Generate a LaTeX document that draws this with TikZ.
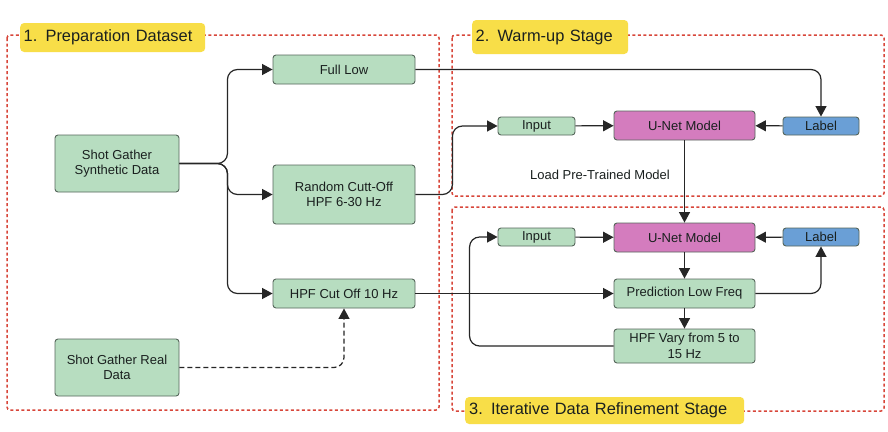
\documentclass[tikz,border=0pt]{standalone}
\usepackage{fontspec}
\setmainfont{Liberation Sans}
\usetikzlibrary{arrows.meta}
\definecolor{boxgreen}{HTML}{B7DDC0}
\definecolor{boxedge}{HTML}{56665B}
\definecolor{unet}{HTML}{D47CBE}
\definecolor{lblue}{HTML}{6A9FD6}
\definecolor{ylw}{HTML}{F8DE48}
\definecolor{rdash}{HTML}{D8463A}
\definecolor{txt}{HTML}{1A201F}
\begin{document}
\begin{tikzpicture}[x=1pt,y=-1pt,
  every node/.style={font=\fontsize{13}{15.5}\selectfont, text=txt},
  gbox/.style={draw=boxedge, fill=boxgreen, rounded corners=3pt, line width=0.9pt, inner sep=0pt, align=center},
  ubox/.style={gbox, fill=unet},
  bbox/.style={gbox, fill=lblue},
  stage/.style={draw=rdash, line width=1.5pt, dash pattern=on 3pt off 2.5pt, rounded corners=3pt},
  stagelabel/.style={fill=ylw, rounded corners=4pt, inner xsep=3.5pt, inner ysep=0pt, align=left, font=\fontsize{16.4}{19}\selectfont, anchor=west},
  conn/.style={draw=black!85, line width=1.2pt, rounded corners=10pt, -{Triangle[length=10.5pt,width=11pt]}}
]
\useasboundingbox (0,0) rectangle (888,431);
\fill[white] (0,0) rectangle (888,431);

% stage frames
\draw[stage] (7,35) rectangle (439,410);
\draw[stage] (452,35) rectangle (884,196);
\draw[stage] (452,207) rectangle (884,411);

\node[stagelabel, text width=178pt, minimum height=29pt] (t1) at (20,37.5) {1. Preparation Dataset};
\node[stagelabel, text width=149pt, minimum height=34pt] (t2) at (472,37) {2. Warm-up Stage};
\node[stagelabel, text width=271pt, minimum height=27pt, inner xsep=4pt] (t3) at (465,410.5) {3. Iterative Data Refinement Stage};

% nodes stage 1
\node[gbox, minimum width=142pt, minimum height=29pt] (full) at (344,69.5) {Full Low};
\node[gbox, minimum width=124pt, minimum height=57pt] (syn) at (117,163.5) {Shot Gather\\Synthetic Data};
\node[gbox, minimum width=142pt, minimum height=59pt] (rand) at (344,194.5) {Random Cutt-Off\\HPF 6-30 Hz};
\node[gbox, minimum width=142pt, minimum height=29pt] (hpf) at (344,293.5) {HPF Cut Off 10 Hz};
\node[gbox, minimum width=124pt, minimum height=57pt] (real) at (117,367.5) {Shot Gather Real\\Data};

% nodes stage 2
\node[gbox, minimum width=77pt, minimum height=18pt] (in1) at (536.5,126) {Input};
\node[ubox, minimum width=141pt, minimum height=29pt] (un1) at (684.5,125.5) {U-Net Model};
\node[bbox, minimum width=76pt, minimum height=18pt] (lb1) at (821,126) {Label};
\node (load) at (600,175) {Load Pre-Trained Model};

% nodes stage 3
\node[gbox, minimum width=77pt, minimum height=18pt] (in2) at (536.5,237) {Input};
\node[ubox, minimum width=141pt, minimum height=29pt] (un2) at (684.5,237.5) {U-Net Model};
\node[bbox, minimum width=76pt, minimum height=18pt] (lb2) at (821,237) {Label};
\node[gbox, minimum width=141pt, minimum height=29pt] (pred) at (684.5,293.5) {Prediction Low Freq};
\node[gbox, minimum width=141pt, minimum height=34pt] (vary) at (684.5,346) {HPF Vary from 5 to\\15 Hz};

% connectors
\draw[conn] (syn.east) -- ([xshift=48pt]syn.east) |- (full.west);
\draw[conn] (syn.east) -- ([xshift=48pt]syn.east) |- (rand.west);
\draw[conn] (syn.east) -- ([xshift=48pt]syn.east) |- (hpf.west);
\draw[conn] (full.east) -| (lb1.north);
\draw[conn] (rand.east) -- ([xshift=37pt]rand.east) |- (in1.west);
\draw[conn] (in1) -- (un1);
\draw[conn] (lb1) -- (un1);
\draw[conn] (un1.south) -- (un2.north);
\draw[conn] (in2) -- (un2);
\draw[conn] (lb2) -- (un2);
\draw[conn] (un2) -- (pred);
\draw[conn] (pred) -- (vary);
\draw[conn] (hpf.east) -- (pred.west);
\draw[conn] (pred.east) -| (lb2.south);
\draw[conn] (vary.west) -- ([xshift=-144pt]vary.west) |- (in2.west);
\draw[conn, dash pattern=on 5pt off 3pt] (real.east) -| (hpf.south);
\end{tikzpicture}
\end{document}
